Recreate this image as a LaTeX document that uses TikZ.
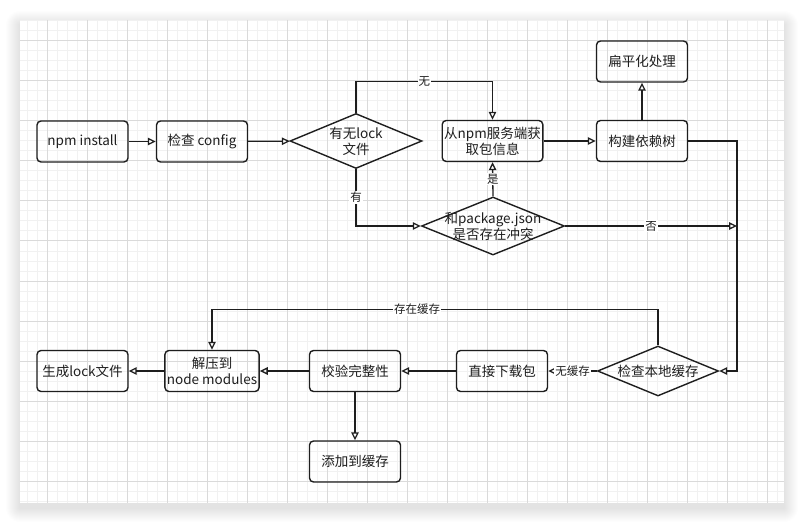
\documentclass[tikz,border=0pt]{standalone}
\usepackage{fontspec}
\setmainfont{Noto Sans CJK SC}
\usetikzlibrary{arrows.meta,positioning,calc,shapes.geometric}
\definecolor{inkDark}{HTML}{1E1E1E}
\definecolor{gridMinor}{HTML}{F1F1F1}
\definecolor{gridMajor}{HTML}{DADADA}
\tikzset{
  stepbox/.style={draw=inkDark, line width=1.4pt, rounded corners=4pt, minimum width=91pt,
    minimum height=41pt, inner sep=2pt, align=center, text=inkDark,
    font=\fontsize{13.5}{16}\selectfont},
  decision/.style={draw=inkDark, line width=1.4pt, diamond, inner sep=0pt},
  dlabel/.style={align=center, text=inkDark, font=\fontsize{13.5}{16}\selectfont},
  flow/.style={draw=inkDark, line width=1.3pt, -{Triangle[open,length=8pt,width=7.5pt]}},
  tag/.style={fill=white, inner sep=1pt, text=inkDark, font=\fontsize{11.5}{13}\selectfont},
}

\begin{document}
\begin{tikzpicture}[x=1pt, y=-1pt]
  \useasboundingbox (0,0) rectangle (804,524);
  \fill[white] (0,0) rectangle (804,524);
  % card shadow and grid
  \foreach \s in {1,...,14} {
     \fill[black, opacity=0.009, rounded corners=\s pt] (20-\s,25-\s) rectangle (784+\s,508+\s);
  }
  \fill[white] (20,20) rectangle (784,503);
  \foreach \gx in {27,37,...,777} \draw[gridMinor, line width=1pt] (\gx,20) -- (\gx,503);
  \foreach \gy in {21,31,...,501} \draw[gridMinor, line width=1pt] (20,\gy) -- (784,\gy);
  \foreach \gx in {47,87,...,767} \draw[gridMajor, line width=1pt] (\gx,20) -- (\gx,503);
  \foreach \gy in {41,81,...,481} \draw[gridMajor, line width=1pt] (20,\gy) -- (784,\gy);

  % steps
  \node[stepbox] (install) at (82.5,141.5) {npm install};
  \node[stepbox] (config) at (202,141.5) {检查 config};
  \node[decision, minimum width=132pt, minimum height=55pt,
        label={[dlabel]center:有无lock\\文件}] (lock) at (356,141) {};
  \node[stepbox] (fetch) at (492.5,141) {从npm服务端获\\取包信息};
  \node[decision, minimum width=143pt, minimum height=58pt,
        label={[dlabel]center:和package.json\\是否存在冲突}] (conflict) at (493,226) {};
  \node[stepbox] (tree) at (642,141) {构建依赖树};
  \node[stepbox] (flat) at (642,61.5) {扁平化处理};
  \node[decision, minimum width=121pt, minimum height=50pt,
        label={[dlabel]center:检查本地缓存}] (cache) at (658,371) {};
  \node[stepbox] (download) at (502,371) {直接下载包};
  \node[stepbox] (verify) at (355,371) {校验完整性};
  \node[stepbox] (unzip) at (212,371) {解压到\\node modules};
  \node[stepbox] (lockfile) at (82.5,371) {生成lock文件};
  \node[stepbox] (store) at (355,461.5) {添加到缓存};
  \coordinate (join) at (737,226);

  % connectors
  \draw[flow] (install) -- (config);
  \draw[flow] (config) -- (lock);
  \draw[flow] (lock.north) -- ++(0,-31) -| node[tag, pos=0.25] {无} (fetch.north);
  \draw[flow] (lock.south) |- node[tag, pos=0.25] {有} (conflict.west);
  \draw[flow] (conflict.north) -- node[tag] {是} (fetch.south);
  \draw[flow] (fetch) -- (tree);
  \draw[flow] (tree) -- (flat);
  \draw[flow] (conflict.east) -- node[tag] {否} (join);
  \draw[flow] (tree.east) -| (join) |- (cache.east);
  \draw[flow] (cache.north) -- ++(0,-36) -| node[tag, pos=0.27] {存在缓存} (unzip.north);
  \draw[flow] (cache.west) -- node[tag] {无缓存} (download.east);
  \draw[flow] (download) -- (verify);
  \draw[flow] (verify) -- (unzip);
  \draw[flow] (unzip) -- (lockfile);
  \draw[flow] (verify) -- (store);
\end{tikzpicture}
\end{document}
